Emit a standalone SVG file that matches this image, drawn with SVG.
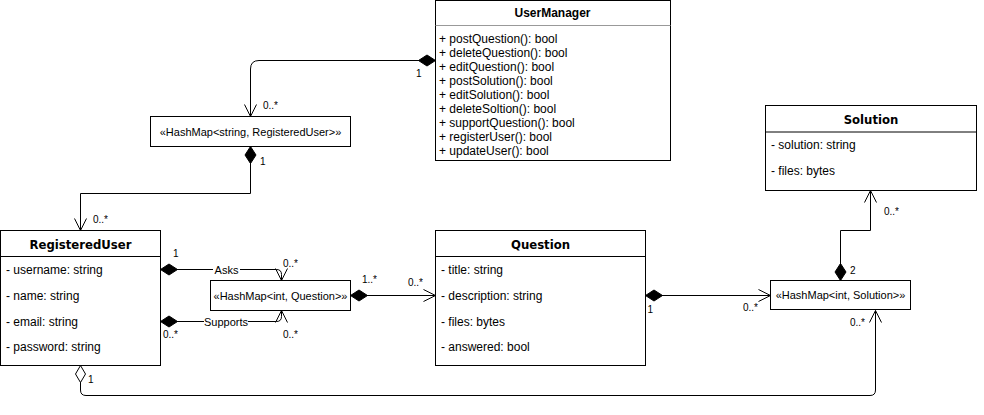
<svg xmlns="http://www.w3.org/2000/svg" width="984" height="415" viewBox="0 0 984 415">
<style>
.box{fill:#fff;stroke:#000;stroke-width:1}
.div{stroke:#000;stroke-width:1}
.t{font-family:"Liberation Sans",Arial,sans-serif;font-size:12px;fill:#000}
.ttl{font-family:"DejaVu Sans",Verdana,sans-serif;font-weight:bold;font-size:11.7px;fill:#000;text-anchor:middle}
.hm{font-family:"Liberation Sans",Arial,sans-serif;font-size:11px;fill:#000;text-anchor:middle}
.m{font-family:"Liberation Sans",Arial,sans-serif;font-size:10px;fill:#000}
.lbl{font-family:"Liberation Sans",Arial,sans-serif;font-size:11px;fill:#000;text-anchor:middle}
.c{fill:none;stroke:#000;stroke-width:1}
</style>
<defs>
<marker id="dia" markerUnits="userSpaceOnUse" orient="auto" refX="0" refY="0" markerWidth="20" markerHeight="14" overflow="visible">
<path d="M0,0 L8.5,-5.5 L17,0 L8.5,5.5 Z" fill="#000" stroke="#000" stroke-width="1"/>
</marker>
<marker id="hdia" markerUnits="userSpaceOnUse" orient="auto" refX="0" refY="0" markerWidth="20" markerHeight="14" overflow="visible">
<path d="M0,0 L8.5,-5 L17,0 L8.5,5 Z" fill="#fff" stroke="#000" stroke-width="1"/>
</marker>
<marker id="arr" markerUnits="userSpaceOnUse" orient="auto" refX="0" refY="0" markerWidth="14" markerHeight="14" overflow="visible">
<path d="M-12,-6 L0,0 L-12,6" fill="none" stroke="#000" stroke-width="1"/>
</marker>
</defs>
<g id="connectors">
<path class="c" d="M435.5 60.5 H259 Q250.5 60.5 250.5 69 V116.5" marker-start="url(#dia)" marker-end="url(#arr)"/>
<path class="c" d="M250.5 146.5 V193.5 H80.5 V230.5" marker-start="url(#dia)" marker-end="url(#arr)"/>
<path class="c" d="M160.5 269.5 H276.5 Q281.5 269.5 281.5 274.5 V280.5" marker-start="url(#dia)" marker-end="url(#arr)"/>
<path class="c" d="M160.5 321.5 H276.5 Q281.5 321.5 281.5 316.5 V310.5" marker-start="url(#dia)" marker-end="url(#arr)"/>
<path class="c" d="M350.5 295.5 H435.5" marker-start="url(#dia)" marker-end="url(#arr)"/>
<path class="c" d="M645.5 295.5 H770.5" marker-start="url(#dia)" marker-end="url(#arr)"/>
<path class="c" d="M840.5 280.5 V230.5 H870.5 V190.5" marker-start="url(#dia)" marker-end="url(#arr)"/>
<path class="c" d="M80.5 365.5 V390 Q80.5 395.5 86 395.5 H870 Q875.5 395.5 875.5 390 V310.5" marker-start="url(#hdia)" marker-end="url(#arr)"/>
<rect x="213" y="263" width="27" height="13" fill="#fff"/>
<text class="lbl" x="226.5" y="273.5">Asks</text>
<rect x="204" y="315" width="44" height="13" fill="#fff"/>
<text class="lbl" x="226" y="325.5">Supports</text>
<text class="m" x="416" y="77">1</text>
<text class="m" x="263" y="109">0..*</text>
<text class="m" x="260" y="165">1</text>
<text class="m" x="93" y="223">0..*</text>
<text class="m" x="173" y="257">1</text>
<text class="m" x="283" y="267">0..*</text>
<text class="m" x="163" y="338">0..*</text>
<text class="m" x="283" y="338">0..*</text>
<text class="m" x="362" y="283">1..*</text>
<text class="m" x="408" y="286">0..*</text>
<text class="m" x="647.5" y="313">1</text>
<text class="m" x="743" y="311">0..*</text>
<text class="m" x="850" y="274">2</text>
<text class="m" x="884" y="215">0..*</text>
<text class="m" x="850" y="326">0..*</text>
<text class="m" x="88" y="383">1</text>
</g>
<g id="UserManager">
<rect class="box" x="435.5" y="0.5" width="235" height="160"/>
<line x1="435.5" y1="25.5" x2="670.5" y2="25.5" stroke="#999" stroke-width="1"/>
<text class="t" x="552.5" y="17" text-anchor="middle" font-weight="bold">UserManager</text>
<text class="t" x="439" y="43">+ postQuestion(): bool</text>
<text class="t" x="439" y="57">+ deleteQuestion(): bool</text>
<text class="t" x="439" y="71">+ editQuestion(): bool</text>
<text class="t" x="439" y="85">+ postSolution(): bool</text>
<text class="t" x="439" y="99">+ editSolution(): bool</text>
<text class="t" x="439" y="113">+ deleteSoltion(): bool</text>
<text class="t" x="439" y="127">+ supportQuestion(): bool</text>
<text class="t" x="439" y="141">+ registerUser(): bool</text>
<text class="t" x="439" y="155">+ updateUser(): bool</text>
</g>
<g id="HashMapStringRegisteredUser">
<rect class="box" x="150.5" y="116.5" width="200" height="30"/>
<text class="hm" x="250.5" y="135.5">«HashMap&lt;string, RegisteredUser&gt;»</text>
</g>
<g id="RegisteredUser">
<rect class="box" x="0.5" y="230.5" width="160" height="135"/>
<line class="div" x1="0.5" y1="256.5" x2="160.5" y2="256.5"/>
<text class="ttl" x="80.5" y="248.5">RegisteredUser</text>
<text class="t" x="6" y="274">- username: string</text>
<text class="t" x="6" y="300">- name: string</text>
<text class="t" x="6" y="325.5">- email: string</text>
<text class="t" x="6" y="351">- password: string</text>
</g>
<g id="HashMapIntQuestion">
<rect class="box" x="210.5" y="280.5" width="140" height="30"/>
<text class="hm" x="280.5" y="299.5">«HashMap&lt;int, Question&gt;»</text>
</g>
<g id="Question">
<rect class="box" x="435.5" y="230.5" width="210" height="135"/>
<line class="div" x1="435.5" y1="256.5" x2="645.5" y2="256.5"/>
<text class="ttl" x="540.5" y="248.5">Question</text>
<text class="t" x="441" y="274">- title: string</text>
<text class="t" x="441" y="300">- description: string</text>
<text class="t" x="441" y="325.5">- files: bytes</text>
<text class="t" x="441" y="351">- answered: bool</text>
</g>
<g id="Solution">
<rect class="box" x="765.5" y="105.5" width="211" height="85"/>
<line class="div" x1="765.5" y1="132" x2="976.5" y2="132"/>
<text class="ttl" x="871" y="124">Solution</text>
<text class="t" x="771" y="149">- solution: string</text>
<text class="t" x="771" y="175">- files: bytes</text>
</g>
<g id="HashMapIntSolution">
<rect class="box" x="770.5" y="280.5" width="140" height="29"/>
<text class="hm" x="840.5" y="299">«HashMap&lt;int, Solution&gt;»</text>
</g>
</svg>
